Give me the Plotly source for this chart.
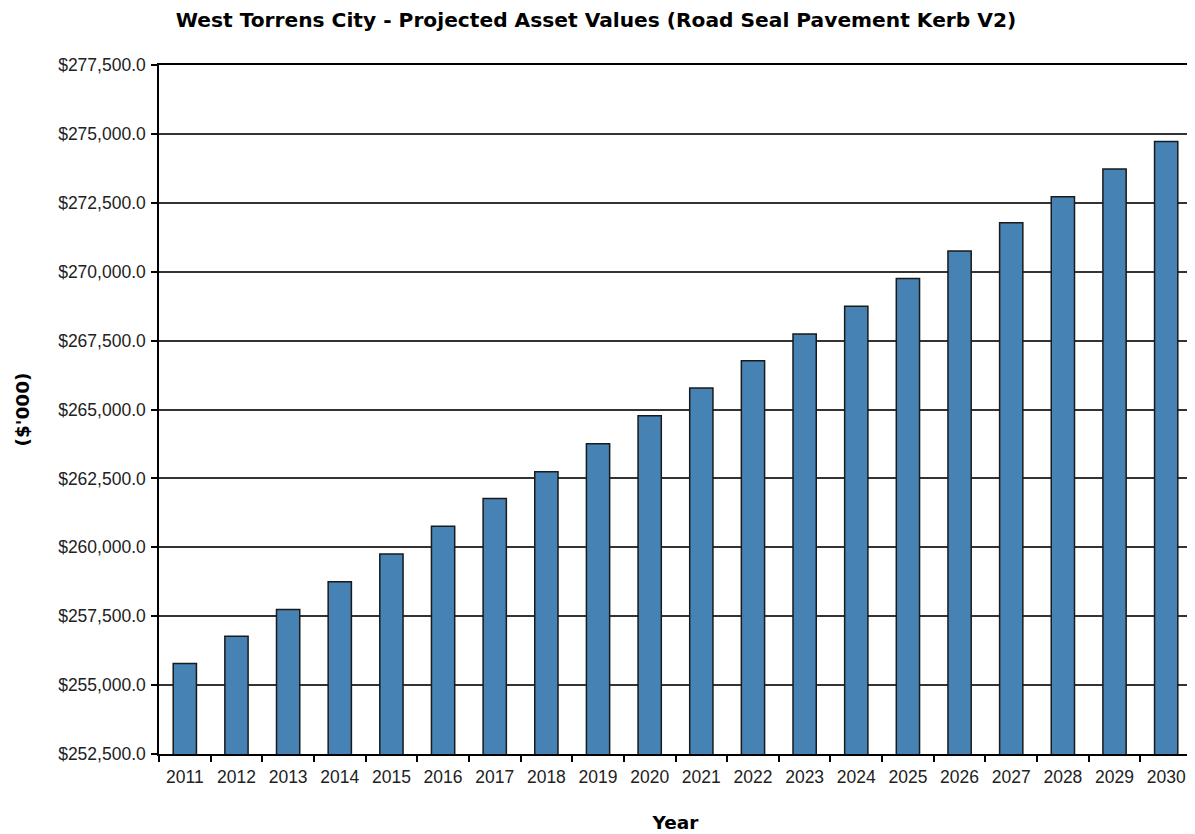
import plotly.graph_objects as go

years = [str(y) for y in range(2011, 2031)]
values = [255780, 256770, 257740, 258750, 259760, 260760, 261770, 262740, 263760, 264770,
          265780, 266770, 267740, 268750, 269750, 270750, 271780, 272720, 273730, 274720]

title_text = "West Torrens City - Projected Asset Values (Road Seal Pavement Kerb V2)"
y_title = "($'000)"
x_title = "Year"

fig = go.Figure(go.Bar(
    x=years, y=values,
    marker=dict(color="#4682B4", line=dict(color="#1a1a1a", width=1.5)),
    width=0.45,
))

fig.update_layout(
    width=1195, height=834,
    paper_bgcolor="white", plot_bgcolor="white",
    margin=dict(l=151, r=11, t=57, b=88, autoexpand=False),
    title=dict(text="<b>" + title_text + "</b>", x=0.492, xanchor="center", y=0.986, yanchor="middle",
               font=dict(family="DejaVu Sans", size=20.2, color="#000")),
    showlegend=False,
)

fig.update_xaxes(
    type="category",
    showline=True, linecolor="#000", linewidth=1.5, mirror=True,
    ticks="outside", tickson="boundaries", ticklen=6, tickcolor="#000", tickwidth=1.5,
    ticklabelstandoff=6,
    tickfont=dict(family="Liberation Sans, Arial", size=17.5, color="#222"),
    title=dict(text="<b>" + x_title + "</b>", font=dict(family="DejaVu Sans", size=18.5, color="#000"), standoff=30),
    showgrid=False,
    automargin=False,
)

fig.update_yaxes(
    range=[252500, 277500], dtick=2500, tick0=252500,
    tickformat="$,.1f",
    showline=True, linecolor="#000", linewidth=1.5, mirror=True,
    ticks="outside", ticklen=6, tickcolor="#000", tickwidth=1.5,
    ticklabelstandoff=2,
    tickfont=dict(family="Liberation Sans, Arial", size=17.5, color="#222"),
    showgrid=True, gridcolor="#333", gridwidth=1.5,
    zeroline=False,
    automargin=False,
    title=dict(text="<b>" + y_title + "</b>", font=dict(family="DejaVu Sans", size=18.5, color="#000"), standoff=24),
)

fig.write_html("out.html")
